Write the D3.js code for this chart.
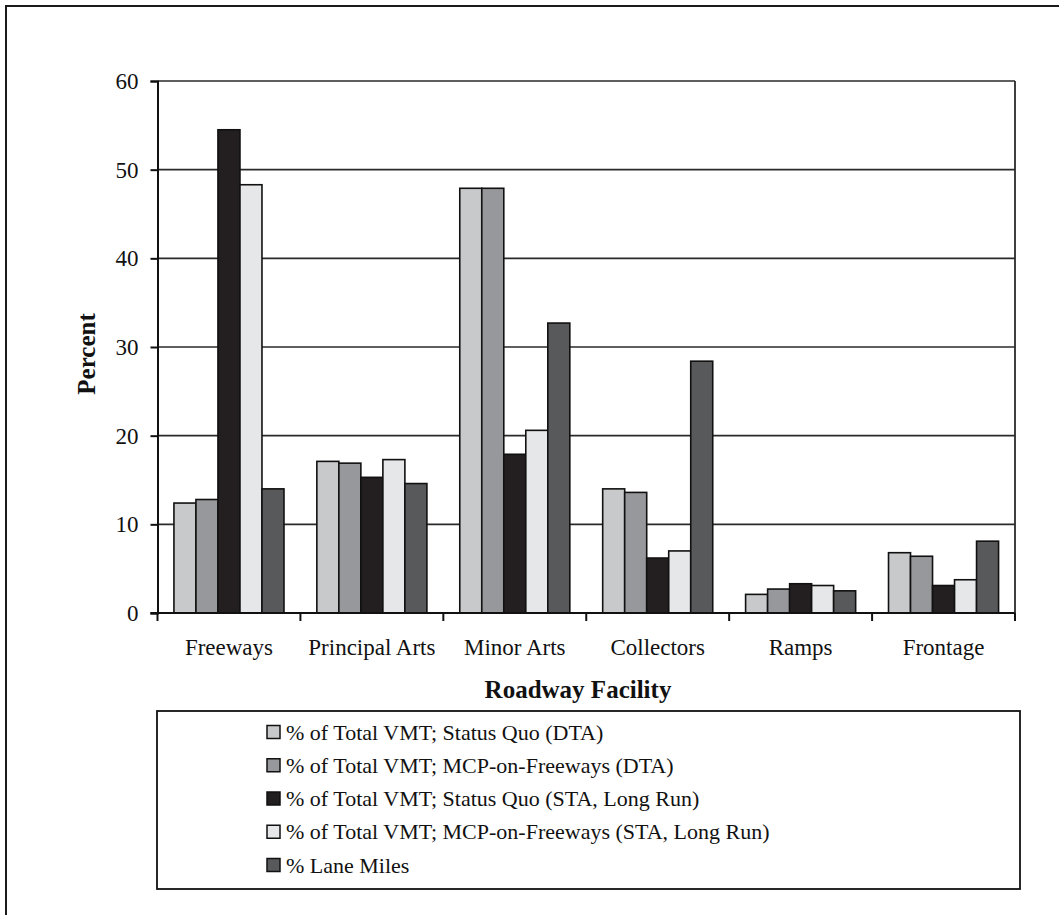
<!DOCTYPE html>
<html>
<head>
<meta charset="utf-8">
<script src="https://cdn.jsdelivr.net/npm/d3@7/dist/d3.min.js"></script>
<style>
  html, body { margin: 0; padding: 0; background: #fff; }
  svg { display: block; }
  text { font-family: "Liberation Serif", "Times New Roman", serif; fill: #111; }
</style>
</head>
<body>
<svg id="chart" width="1059" height="915"></svg>
<script>
const categories = ["Freeways", "Principal Arts", "Minor Arts", "Collectors", "Ramps", "Frontage"];
const seriesNames = [
  "% of Total VMT; Status Quo (DTA)",
  "% of Total VMT; MCP-on-Freeways (DTA)",
  "% of Total VMT; Status Quo (STA, Long Run)",
  "% of Total VMT; MCP-on-Freeways (STA, Long Run)",
  "% Lane Miles"
];
const statusQuoDTA   = [12.4, 17.1, 47.9, 14.0, 2.1, 6.8];
const mcpDTA         = [12.8, 16.9, 47.9, 13.6, 2.7, 6.4];
const statusQuoSTA   = [54.5, 15.3, 17.9, 6.2, 3.3, 3.1];
const mcpSTA         = [48.3, 17.3, 20.6, 7.0, 3.1, 3.75];
const laneMiles      = [14.0, 14.6, 32.7, 28.4, 2.5, 8.1];
const seriesValues = [statusQuoDTA, mcpDTA, statusQuoSTA, mcpSTA, laneMiles];
const seriesColors = ["#c8c9cb", "#97989b", "#231f20", "#e6e7e8", "#58595b"];
const yTicks = [0, 10, 20, 30, 40, 50, 60];

const svg = d3.select("#chart");

// outer frame (only top/left visible in the picture)
svg.append("rect").attr("x", 6).attr("y", 6).attr("width", 1070).attr("height", 930)
  .attr("fill", "none").attr("stroke", "#1a1a1a").attr("stroke-width", 2);

const L = 157.5, R = 1015, T = 81, B = 613;
const x0 = d3.scaleBand().domain(categories).range([L, R]).padding(0);
const bw = x0.bandwidth();
const x1 = d3.scaleBand().domain(d3.range(seriesNames.length)).range([0.115 * bw, 0.885 * bw]).padding(0);
const y = d3.scaleLinear().domain([0, 60]).range([B, T]);

// gridlines
svg.append("g").selectAll("line").data(yTicks.filter(d => d > 0)).join("line")
  .attr("x1", L).attr("x2", R).attr("y1", d => y(d)).attr("y2", d => y(d))
  .attr("stroke", "#2a2a2a").attr("stroke-width", 1.6);

// right border of plot
svg.append("line").attr("x1", R).attr("x2", R).attr("y1", T).attr("y2", B)
  .attr("stroke", "#2a2a2a").attr("stroke-width", 1.8);

// bars
const groups = svg.append("g").selectAll("g").data(categories).join("g")
  .attr("transform", d => `translate(${x0(d)},0)`);
groups.selectAll("rect").data((c, ci) => seriesValues.map((vals, si) => ({ si, v: vals[ci] }))).join("rect")
  .attr("x", d => x1(d.si))
  .attr("width", x1.bandwidth())
  .attr("y", d => y(d.v))
  .attr("height", d => y(0) - y(d.v))
  .attr("fill", d => seriesColors[d.si])
  .attr("stroke", "#111")
  .attr("stroke-width", 1.6);

// y axis
const yAxis = d3.axisLeft(y).tickValues(yTicks).tickSize(7).tickPadding(12).tickFormat(d3.format("d"));
const gy = svg.append("g").attr("transform", `translate(${L},0)`).call(yAxis);
gy.select(".domain").attr("stroke", "#111").attr("stroke-width", 2);
gy.selectAll(".tick line").attr("stroke", "#111").attr("stroke-width", 2);
gy.selectAll(".tick text").attr("font-size", 23).attr("font-family", "Liberation Serif").attr("fill", "#111");

// x axis: ticks at band boundaries
const gx = svg.append("g").attr("transform", `translate(0,${B})`);
gx.append("line").attr("x1", L - 7).attr("x2", R).attr("y1", 0).attr("y2", 0)
  .attr("stroke", "#111").attr("stroke-width", 2);
const boundaries = categories.map(c => x0(c)).concat([R]);
gx.selectAll("line.tk").data(boundaries).join("line").attr("class", "tk")
  .attr("x1", d => d).attr("x2", d => d).attr("y1", 0).attr("y2", 8)
  .attr("stroke", "#111").attr("stroke-width", 2);
gx.selectAll("text").data(categories).join("text")
  .attr("x", d => x0(d) + bw / 2).attr("y", 42)
  .attr("text-anchor", "middle").attr("font-size", 23).text(d => d);

// axis titles
svg.append("text").attr("transform", `translate(95,354) rotate(-90)`)
  .attr("text-anchor", "middle").attr("font-size", 25).attr("font-weight", "bold").text("Percent");
svg.append("text").attr("x", 578).attr("y", 698)
  .attr("text-anchor", "middle").attr("font-size", 25).attr("font-weight", "bold").text("Roadway Facility");

// legend
const lg = svg.append("g");
lg.append("rect").attr("x", 157).attr("y", 711).attr("width", 863).attr("height", 178)
  .attr("fill", "#fff").attr("stroke", "#111").attr("stroke-width", 1.8);
const rowY = d3.scalePoint().domain(d3.range(seriesNames.length)).range([732, 865]);
const rows = lg.selectAll("g.row").data(seriesNames).join("g").attr("class", "row")
  .attr("transform", (d, i) => `translate(267,${rowY(i)})`);
rows.append("rect").attr("x", 0).attr("y", -6.5).attr("width", 13).attr("height", 13)
  .attr("fill", (d, i) => seriesColors[i]).attr("stroke", "#111").attr("stroke-width", 1.5);
rows.append("text").attr("x", 19).attr("y", 7.5).attr("font-size", 22).text(d => d);
</script>
</body>
</html>
